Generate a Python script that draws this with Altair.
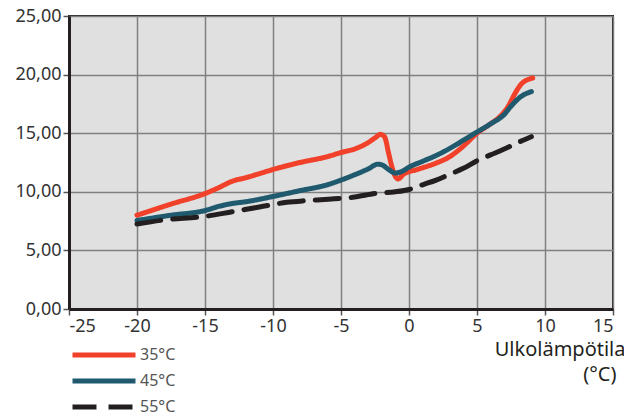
import altair as alt
import pandas as pd

# 35°C
x35 = [-20, -17.5, -15, -14, -13, -12, -11, -10, -8, -6, -5, -4, -3, -2.5, -2.1, -1.8, -1.5,
       -1.25, -1.0, -0.8, -0.4, 0.6, 2.0, 3.0, 4.0, 5.0, 6.0, 6.8, 7.3, 7.8, 8.3, 9.1]
y35 = [8.0, 8.95, 9.85, 10.35, 10.9, 11.2, 11.55, 11.9, 12.5, 13.0, 13.35, 13.65, 14.2, 14.6,
       14.9, 14.7, 13.3, 12.1, 11.3, 11.1, 11.5, 11.9, 12.45, 13.0, 13.9, 15.0, 15.8, 16.55,
       17.3, 18.4, 19.25, 19.7]
# 45°C
x45 = [-20, -17.5, -15, -14, -13, -12, -10, -8, -6, -5, -4, -3, -2.3, -2.0, -1.5, -1.0, -0.5,
       0, 1, 2, 3, 4, 5, 6, 7, 7.5, 8.2, 9.0]
y45 = [7.55, 8.0, 8.4, 8.75, 9.0, 9.15, 9.6, 10.1, 10.6, 11.0, 11.45, 11.95, 12.35, 12.3, 11.9,
       11.6, 11.75, 12.1, 12.6, 13.1, 13.7, 14.4, 15.1, 15.8, 16.6, 17.3, 18.1, 18.55]
# 55°C
x55 = [-20, -18, -15, -13, -11, -9, -7.5, -5.5, -4, -2.5, -1, 0, 1, 2, 3, 4, 5, 6, 7, 8, 9]
y55 = [7.25, 7.6, 7.9, 8.3, 8.7, 9.1, 9.25, 9.4, 9.55, 9.85, 10.0, 10.2, 10.6, 11.0, 11.5,
       12.0, 12.65, 13.15, 13.65, 14.2, 14.7]

series = ["35°C", "45°C", "55°C"]
colors = ["#f2412a", "#1f5a6e", "#231f20"]
dashes = [[1, 0], [1, 0], [24, 12]]
x_ticks = [-25, -20, -15, -10, -5, 0, 5, 10, 15]
y_ticks = [0, 5, 10, 15, 20, 25]

rows = []
for name, xs, ys in zip(series, [x35, x45, x55], [y35, y45, y55]):
    for i, (a, b) in enumerate(zip(xs, ys)):
        rows.append({"series": name, "x": a, "y": b, "i": i})
df = pd.DataFrame(rows)

FONT = "Noto Sans"

legend = alt.Legend(
    orient="none", legendX=1, legendY=328, title=None,
    symbolType="stroke", symbolSize=3969, symbolStrokeWidth=5,
    clipHeight=22, rowPadding=4, padding=0, symbolOffset=0,
    labelFontSize=16, labelColor="#555555", labelOffset=2, labelFont=FONT,
)

chart = alt.Chart(df).mark_line(strokeWidth=5, strokeCap="round", interpolate="monotone").encode(
    x=alt.X("x:Q", scale=alt.Scale(domain=[-25, 15], nice=False),
            axis=alt.Axis(values=x_ticks, labelExpr="datum.value + ''",
                          title="Ulkolämpötila",
                          titleX=556, titleY=46, titleAlign="right", titleBaseline="alphabetic",
                          titleFontSize=20, titleFontWeight="normal", titleColor="#231f20",
                          titleFont=FONT)),
    y=alt.Y("y:Q", scale=alt.Scale(domain=[0, 25], nice=False),
            axis=alt.Axis(values=y_ticks, title="(°C)",
                          titleAngle=0, titleX=547, titleY=364, titleAlign="right",
                          titleBaseline="alphabetic", titleFontSize=20, titleFontWeight="normal",
                          titleColor="#231f20", titleFont=FONT,
                          labelExpr="replace(format(datum.value, '.2f'), '.', ',')")),
    color=alt.Color("series:N", scale=alt.Scale(domain=series, range=colors), legend=legend),
    strokeDash=alt.StrokeDash("series:N", scale=alt.Scale(domain=series, range=dashes), legend=legend),
    order="i:Q",
).properties(
    width=544, height=293,
    autosize=alt.AutoSizeParams(type="none"),
    padding={"left": 61, "top": 8, "right": 11, "bottom": 107},
).configure_view(
    fill="#e0e0e0", stroke="#231f20", strokeWidth=2
).configure_axis(
    labelFont=FONT, labelFontSize=18, labelColor="#333333",
    domainColor="#231f20", domainWidth=3,
    tickColor="#555555", tickWidth=1.5, tickSize=6, labelPadding=2,
    gridColor="#808080", gridWidth=1.5,
)

chart.save("out.html", embed_options={"renderer": "svg", "actions": False})
